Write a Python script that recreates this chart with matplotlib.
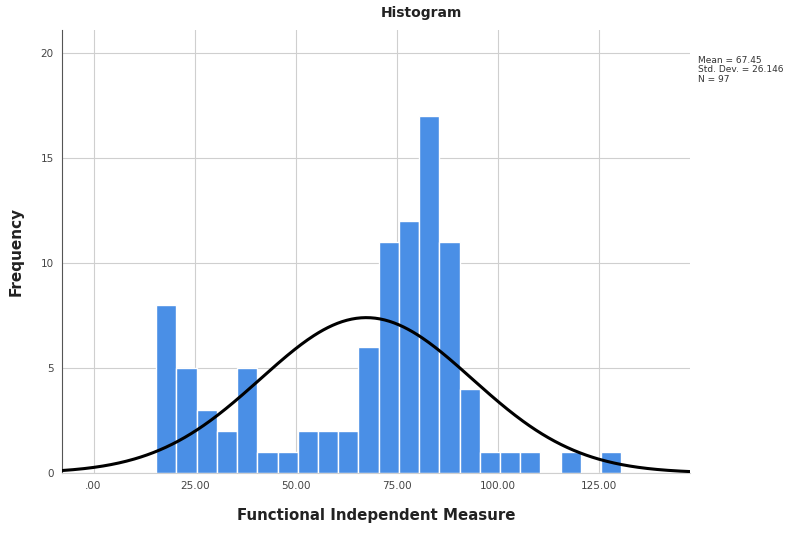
import numpy as np
import matplotlib
matplotlib.use("Agg")
import matplotlib.pyplot as plt

inicio_classes = 15.5
largura_classe = 5.0
frequencias = [8, 5, 3, 2, 5, 1, 1, 2, 2, 2, 6, 11, 12, 17, 11, 4, 1, 1, 1, 0, 1, 0, 1]

media = 67.45
desvio = 26.146
n = 97

xticks = [0, 25, 50, 75, 100, 125]
xtick_labels = [".00", "25.00", "50.00", "75.00", "100.00", "125.00"]
yticks = [0, 5, 10, 15, 20]

fig = plt.figure(figsize=(7.98, 5.33), dpi=100)
ax = fig.add_axes([62 / 798, 1 - 473 / 533, (690 - 62) / 798, (473 - 30) / 533])

esquerdas = inicio_classes + largura_classe * np.arange(len(frequencias))
ax.bar(esquerdas, frequencias, width=largura_classe, align="edge",
       color="#4a8fe6", edgecolor="white", linewidth=1.0, zorder=2)

# Curva normal ajustada
xs = np.linspace(-7.8, 147.5, 400)
ys = n * largura_classe / (desvio * np.sqrt(2 * np.pi)) * np.exp(-0.5 * ((xs - media) / desvio) ** 2)
ax.plot(xs, ys, color="black", linewidth=2.2, zorder=3)

ax.set_xlim(-7.8, 147.5)
ax.set_ylim(0, 21.1)
ax.set_xticks(xticks)
ax.set_xticklabels(xtick_labels)
ax.set_yticks(yticks)
ax.grid(True, color="#cfcfcf", linewidth=0.8, zorder=0)
ax.set_axisbelow(True)

for lado in ["top", "right"]:
    ax.spines[lado].set_visible(False)
ax.spines["left"].set_color("#555555")
ax.spines["bottom"].set_color("#cfcfcf")
ax.tick_params(axis="both", length=0, labelsize=7.5, colors="#444444", pad=6)

ax.set_xlabel("Functional Independent Measure", fontsize=10.8, fontweight="bold",
              color="#222222", labelpad=12)
ax.set_ylabel("Frequency", fontsize=11, fontweight="bold", color="#222222", labelpad=12)

fig.text(421 / 798, 1 - 13 / 533, "Histogram", ha="center", va="center",
         fontsize=10, fontweight="bold", color="#222222")
fig.text(698 / 798, 1 - 70 / 533, "Mean = 67.45\nStd. Dev. = 26.146\nN = 97",
         ha="left", va="center", fontsize=6.5, color="#333333", linespacing=1.05)

plt.savefig("out.png", dpi=100)
